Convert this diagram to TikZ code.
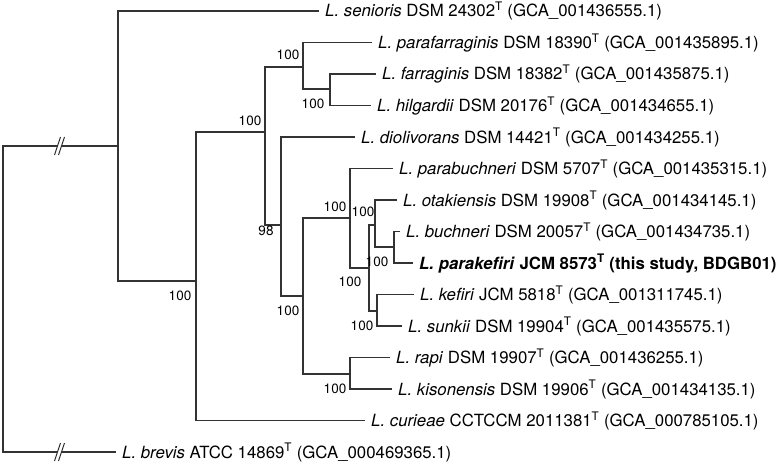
\documentclass[tikz,border=0pt]{standalone}
\usepackage{fontspec}
\setmainfont{TeX Gyre Heros}
\newcommand{\tstrain}{\textsuperscript{T}}
\tikzset{
  branch/.style={line width=1.1pt, color=black!80},
  taxon/.style={anchor=west, inner xsep=6pt, inner ysep=0pt, text height=12pt, text depth=0pt,
    font=\fontsize{16.8}{18}\selectfont},
  boot/.style={inner sep=0pt, font=\fontsize{13.5}{15}\selectfont},
}

\begin{document}
\begin{tikzpicture}[x=1pt, y=-1pt]
    \useasboundingbox (0,0) rectangle (783,465);
    % internal nodes
    \coordinate (root) at (3,299);
    \coordinate (nA) at (118,146);
    \coordinate (nB) at (196,281);
    \coordinate (nC) at (265,132);
    \coordinate (nD) at (303,67);
    \coordinate (nE) at (330,89);
    \coordinate (nF) at (281,225);
    \coordinate (nG) at (303,296);
    \coordinate (nH) at (350,218);
    \coordinate (nI) at (369,268);
    \coordinate (nJ) at (375,225);
    \coordinate (nK) at (394,247);
    \coordinate (nL) at (377,311);
    \coordinate (nM) at (350,374);
    \coordinate (brkA1) at (57.5,146);
    \coordinate (brkA2) at (61.5,146);
    \coordinate (brkB1) at (57.5,452);
    \coordinate (brkB2) at (61.5,452);

    % taxa
    \node[taxon] (senioris) at (319,11) {\textit{L. senioris} DSM 24302\tstrain{} (GCA\_001436555.1)};
    \node[taxon] (parafarraginis) at (372,42.5) {\textit{L. parafarraginis} DSM 18390\tstrain{} (GCA\_001435895.1)};
    \node[taxon] (farraginis) at (376,74) {\textit{L. farraginis} DSM 18382\tstrain{} (GCA\_001435875.1)};
    \node[taxon] (hilgardii) at (371,105.5) {\textit{L. hilgardii} DSM 20176\tstrain{} (GCA\_001434655.1)};
    \node[taxon] (diolivorans) at (355,137) {\textit{L. diolivorans} DSM 14421\tstrain{} (GCA\_001434255.1)};
    \node[taxon] (parabuchneri) at (393,168.5) {\textit{L. parabuchneri} DSM 5707\tstrain{} (GCA\_001435315.1)};
    \node[taxon] (otakiensis) at (397,200) {\textit{L. otakiensis} DSM 19908\tstrain{} (GCA\_001434145.1)};
    \node[taxon] (buchneri) at (400,231.5) {\textit{L. buchneri} DSM 20057\tstrain{} (GCA\_001434735.1)};
    \node[taxon] (parakefiri) at (413,263) {\textbf{\textit{L. parakefiri} JCM 8573\tstrain{} (this study, BDGB01)}};
    \node[taxon] (kefiri) at (414,294.5) {\textit{L. kefiri} JCM 5818\tstrain{} (GCA\_001311745.1)};
    \node[taxon] (sunkii) at (402,326) {\textit{L. sunkii} DSM 19904\tstrain{} (GCA\_001435575.1)};
    \node[taxon] (rapi) at (390,357.5) {\textit{L. rapi} DSM 19907\tstrain{} (GCA\_001436255.1)};
    \node[taxon] (kisonensis) at (392,389) {\textit{L. kisonensis} DSM 19906\tstrain{} (GCA\_001434135.1)};
    \node[taxon] (curieae) at (365,420.5) {\textit{L. curieae} CCTCCM 2011381\tstrain{} (GCA\_000785105.1)};
    \node[taxon] (brevis) at (116,452) {\textit{L. brevis} ATCC 14869\tstrain{} (GCA\_000469365.1)};

    % branches
    \draw[branch] (root) |- (brkA1);
    \draw[branch] (brkA2) -- (nA);
    \draw[branch] (root) |- (brkB1);
    \draw[branch] (brkB2) -- (brevis.west);
    \draw[branch] ([shift={(-3,9)}]brkA1) -- ([shift={(3,-9)}]brkA1);
    \draw[branch] ([shift={(-3,9)}]brkA2) -- ([shift={(3,-9)}]brkA2);
    \draw[branch] ([shift={(-3,9)}]brkB1) -- ([shift={(3,-9)}]brkB1);
    \draw[branch] ([shift={(-3,9)}]brkB2) -- ([shift={(3,-9)}]brkB2);
    \draw[branch] (nA) |- (senioris.west);
    \draw[branch] (nA) |- (nB);
    \draw[branch] (nB) |- (nC);
    \draw[branch] (nB) |- (curieae.west);
    \draw[branch] (nC) |- (nD);
    \draw[branch] (nC) |- (nF);
    \draw[branch] (nD) |- (parafarraginis.west);
    \draw[branch] (nD) |- (nE);
    \draw[branch] (nE) |- (farraginis.west);
    \draw[branch] (nE) |- (hilgardii.west);
    \draw[branch] (nF) |- (diolivorans.west);
    \draw[branch] (nF) |- (nG);
    \draw[branch] (nG) |- (nH);
    \draw[branch] (nG) |- (nM);
    \draw[branch] (nH) |- (parabuchneri.west);
    \draw[branch] (nH) |- (nI);
    \draw[branch] (nI) |- (nJ);
    \draw[branch] (nI) |- (nL);
    \draw[branch] (nJ) |- (otakiensis.west);
    \draw[branch] (nJ) |- (nK);
    \draw[branch] (nK) |- (buchneri.west);
    \draw[branch] (nK) |- (parakefiri.west);
    \draw[branch] (nL) |- (kefiri.west);
    \draw[branch] (nL) |- (sunkii.west);
    \draw[branch] (nM) |- (rapi.west);
    \draw[branch] (nM) |- (kisonensis.west);

    % bootstrap values
    \node[boot] (bsB) at (180,296) {100};
    \node[boot] (bsC) at (250,121) {100};
    \node[boot] (bsD) at (288,55) {100};
    \node[boot] (bsE) at (313,104) {100};
    \node[boot] (bsF) at (266,231) {98};
    \node[boot] (bsG) at (288,311) {100};
    \node[boot] (bsH) at (335,207) {100};
    \node[boot] (bsI) at (350,282) {100};
    \node[boot] (bsJ) at (363,212) {100};
    \node[boot] (bsK) at (377,262) {100};
    \node[boot] (bsL) at (362,326) {100};
    \node[boot] (bsM) at (335,389) {100};
\end{tikzpicture}
\end{document}
